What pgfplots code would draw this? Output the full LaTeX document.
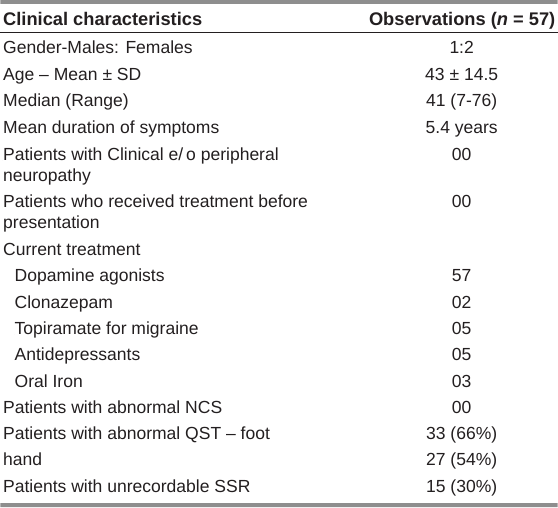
\documentclass[border=0pt]{standalone}
\usepackage{pgfplots}
\pgfplotsset{compat=1.18}
\usepackage{fontspec}
\setmainfont{Liberation Sans}
\definecolor{ink}{HTML}{231F20}
\definecolor{bar}{HTML}{8E8E8E}
\newcommand{\fs}{\fontsize{17.55}{20}\selectfont}
\newcommand{\fb}{\fontsize{18.3}{20}\selectfont\bfseries}
\pgfplotsset{
  txt/.style={only marks, mark=*, mark size=0pt, mark options={draw=none,fill=none},
    point meta=explicit symbolic, nodes near coords,
    nodes near coords style={anchor=#1, inner sep=0pt, font=\fs, text=ink}},
}
\begin{document}
\begin{tikzpicture}
\begin{axis}[width=558pt, height=508pt, scale only axis,
  xmin=0, xmax=558, ymin=0, ymax=508, y dir=reverse,
  hide axis, clip=false]
% background and rules
\addplot[draw=none, fill=white] coordinates {(0,0) (558,0) (558,508) (0,508) (0,0)};
\addplot[draw=none, fill=bar] coordinates {(0,0) (558,0) (558,4) (0,4) (0,0)};
\addplot[draw=none, fill=bar] coordinates {(0,504) (558,504) (558,508) (0,508) (0,504)};
\addplot[ink, line width=1pt] coordinates {(0,33) (558,33)};
% header
\addplot[txt=base west, nodes near coords style={font=\fb}] coordinates {
  (2.5,26) [Clinical characteristics]};
\addplot[txt=base east, nodes near coords style={font=\fb}] coordinates {
  (556,26) [{Observations (\textit{n} = 57)}]};
% left column
\addplot[txt=base west] coordinates {
  (2.5,54) [Gender-Males: Females]
  (2.5,80.5) [Age – Mean ± SD]
  (2.5,107) [{Median (Range)}]
  (2.5,133.5) [Mean duration of symptoms]
  (2.5,160.5) [{Patients with Clinical e/\,o peripheral}]
  (2.5,181.5) [neuropathy]
  (2.5,207.5) [Patients who received treatment before]
  (2.5,228.5) [presentation]
  (2.5,256) [Current treatment]
  (14,282.3) [Dopamine agonists]
  (14,308.7) [Clonazepam]
  (14,335) [Topiramate for migraine]
  (14,361.3) [Antidepressants]
  (14,387.7) [Oral Iron]
  (2.5,414) [Patients with abnormal NCS]
  (2.5,440.3) [Patients with abnormal QST – foot]
  (2.5,466.7) [hand]
  (2.5,493) [Patients with unrecordable SSR]
};
% right column
\addplot[txt=base] coordinates {
  (462,54) [1:2]
  (462,80.5) [43 ± 14.5]
  (462,107) [{41 (7-76)}]
  (462,133.5) [5.4 years]
  (462,160.5) [00]
  (462,207.5) [00]
  (462,282.3) [57]
  (462,308.7) [02]
  (462,335) [05]
  (462,361.3) [05]
  (462,387.7) [03]
  (462,414) [00]
  (462,440.3) [{33 (66\%)}]
  (462,466.7) [{27 (54\%)}]
  (462,493) [{15 (30\%)}]
};
\end{axis}
\end{tikzpicture}
\end{document}
